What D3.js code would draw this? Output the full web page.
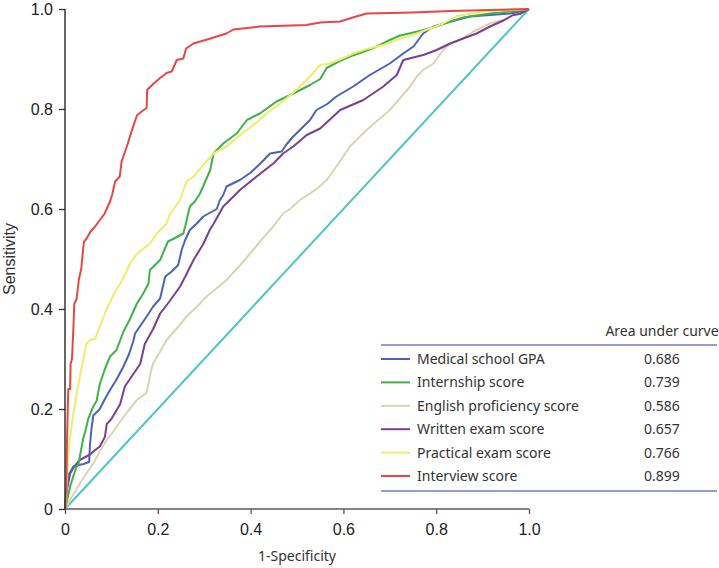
<!DOCTYPE html>
<html>
<head>
<meta charset="utf-8">
<script src="https://cdn.jsdelivr.net/npm/d3@7"></script>
<style>
html,body{margin:0;padding:0;background:#fff;}
svg{display:block;}
</style>
</head>
<body>
<svg id="chart" width="719" height="568"></svg>
<script>
// ---- data ----
const seriesNames = ["Medical school GPA","Internship score","English proficiency score","Written exam score","Practical exam score","Interview score"];
const aucValues = ["0.686","0.739","0.586","0.657","0.766","0.899"];
const xTicks = [0,0.2,0.4,0.6,0.8,1.0];
const yTicks = [0,0.2,0.4,0.6,0.8,1.0];

const gpaROC = [[0,0],[0.004,0.04],[0.008,0.07],[0.011,0.073],[0.018,0.085],[0.025,0.087],[0.04,0.09],[0.052,0.094],[0.054,0.13],[0.057,0.16],[0.061,0.187],[0.075,0.2],[0.086,0.22],[0.097,0.238],[0.111,0.259],[0.126,0.285],[0.138,0.31],[0.147,0.335],[0.151,0.351],[0.165,0.37],[0.176,0.385],[0.19,0.405],[0.205,0.421],[0.216,0.465],[0.23,0.475],[0.244,0.488],[0.252,0.52],[0.259,0.538],[0.269,0.558],[0.285,0.572],[0.298,0.585],[0.327,0.6],[0.334,0.618],[0.341,0.628],[0.348,0.645],[0.377,0.658],[0.399,0.672],[0.42,0.69],[0.442,0.711],[0.467,0.715],[0.478,0.73],[0.492,0.745],[0.517,0.768],[0.528,0.778],[0.542,0.798],[0.565,0.81],[0.585,0.825],[0.621,0.845],[0.657,0.868],[0.7,0.891],[0.729,0.911],[0.751,0.925],[0.772,0.951],[0.794,0.965],[0.844,0.978],[0.873,0.985],[0.916,0.988],[0.959,0.991],[0.98,0.995],[1,1]];
const internshipROC = [[0,0],[0.005,0.02],[0.011,0.045],[0.018,0.066],[0.025,0.085],[0.029,0.09],[0.032,0.105],[0.039,0.14],[0.045,0.16],[0.05,0.18],[0.061,0.205],[0.068,0.216],[0.075,0.25],[0.086,0.28],[0.097,0.305],[0.111,0.318],[0.126,0.355],[0.14,0.38],[0.155,0.411],[0.168,0.43],[0.18,0.451],[0.183,0.478],[0.205,0.498],[0.215,0.52],[0.222,0.535],[0.235,0.541],[0.255,0.551],[0.259,0.565],[0.269,0.605],[0.28,0.615],[0.291,0.631],[0.313,0.678],[0.32,0.711],[0.341,0.731],[0.37,0.751],[0.392,0.778],[0.42,0.791],[0.456,0.815],[0.492,0.831],[0.528,0.848],[0.55,0.86],[0.564,0.882],[0.59,0.895],[0.614,0.905],[0.645,0.915],[0.672,0.925],[0.7,0.938],[0.722,0.947],[0.76,0.955],[0.794,0.963],[0.83,0.975],[0.858,0.983],[0.916,0.991],[0.96,0.995],[1,1]];
const englishROC = [[0,0],[0.015,0.025],[0.032,0.051],[0.045,0.07],[0.061,0.091],[0.075,0.115],[0.09,0.138],[0.105,0.156],[0.119,0.175],[0.135,0.195],[0.155,0.218],[0.175,0.232],[0.18,0.25],[0.185,0.275],[0.19,0.291],[0.205,0.315],[0.219,0.338],[0.24,0.36],[0.262,0.385],[0.285,0.405],[0.305,0.425],[0.325,0.44],[0.348,0.458],[0.375,0.485],[0.399,0.511],[0.425,0.54],[0.449,0.565],[0.47,0.591],[0.485,0.6],[0.506,0.618],[0.528,0.631],[0.545,0.642],[0.564,0.658],[0.585,0.685],[0.614,0.725],[0.65,0.758],[0.7,0.798],[0.744,0.845],[0.758,0.865],[0.772,0.878],[0.794,0.891],[0.815,0.918],[0.83,0.931],[0.851,0.938],[0.88,0.955],[0.916,0.971],[0.944,0.978],[0.97,0.99],[1,1]];
const writtenROC = [[0,0],[0.004,0.038],[0.011,0.071],[0.02,0.085],[0.032,0.098],[0.054,0.109],[0.061,0.115],[0.075,0.125],[0.086,0.144],[0.09,0.17],[0.1,0.18],[0.119,0.21],[0.129,0.245],[0.14,0.26],[0.162,0.29],[0.172,0.33],[0.19,0.36],[0.205,0.391],[0.225,0.415],[0.248,0.445],[0.262,0.47],[0.277,0.498],[0.298,0.53],[0.313,0.56],[0.32,0.57],[0.341,0.605],[0.363,0.625],[0.377,0.638],[0.413,0.665],[0.449,0.691],[0.47,0.711],[0.492,0.725],[0.521,0.748],[0.55,0.761],[0.593,0.798],[0.643,0.818],[0.686,0.845],[0.715,0.868],[0.729,0.898],[0.772,0.908],[0.801,0.918],[0.83,0.931],[0.858,0.941],[0.887,0.951],[0.916,0.965],[0.945,0.977],[0.966,0.988],[0.98,0.99],[1,1]];
const practicalROC = [[0,0],[0.002,0.02],[0.004,0.052],[0.007,0.111],[0.012,0.15],[0.018,0.191],[0.025,0.23],[0.032,0.265],[0.039,0.298],[0.046,0.33],[0.054,0.338],[0.065,0.34],[0.075,0.365],[0.09,0.4],[0.108,0.435],[0.119,0.451],[0.13,0.47],[0.14,0.491],[0.155,0.51],[0.165,0.518],[0.183,0.531],[0.198,0.551],[0.219,0.571],[0.226,0.59],[0.248,0.618],[0.262,0.655],[0.277,0.665],[0.3,0.69],[0.32,0.711],[0.348,0.725],[0.37,0.742],[0.392,0.758],[0.415,0.775],[0.435,0.791],[0.465,0.812],[0.492,0.833],[0.51,0.848],[0.528,0.865],[0.55,0.888],[0.571,0.891],[0.6,0.902],[0.621,0.911],[0.65,0.92],[0.686,0.928],[0.72,0.94],[0.758,0.951],[0.79,0.962],[0.815,0.971],[0.844,0.986],[0.902,0.995],[1,1]];
const interviewROC = [[0,0],[0.003,0.05],[0.004,0.12],[0.006,0.2],[0.007,0.24],[0.011,0.24],[0.012,0.29],[0.015,0.3],[0.018,0.36],[0.02,0.41],[0.025,0.42],[0.03,0.46],[0.035,0.48],[0.039,0.52],[0.041,0.535],[0.046,0.54],[0.055,0.555],[0.065,0.565],[0.075,0.578],[0.085,0.59],[0.097,0.615],[0.102,0.63],[0.108,0.655],[0.118,0.665],[0.122,0.695],[0.135,0.73],[0.145,0.76],[0.155,0.787],[0.165,0.795],[0.176,0.802],[0.177,0.838],[0.19,0.85],[0.205,0.862],[0.219,0.872],[0.23,0.875],[0.241,0.898],[0.255,0.901],[0.261,0.921],[0.277,0.931],[0.31,0.94],[0.348,0.951],[0.363,0.959],[0.42,0.965],[0.52,0.968],[0.55,0.973],[0.593,0.975],[0.62,0.983],[0.65,0.991],[0.75,0.993],[0.83,0.996],[0.916,0.998],[1,1]];
const referenceLine = [[0,0],[1,1]];

// ---- styling ----
const seriesColors = ["#4a63b5","#3fb14b","#d9d4b2","#7d3e8f","#f1eb6c","#e84545"];
const seriesData = [gpaROC, internshipROC, englishROC, writtenROC, practicalROC, interviewROC];
const drawOrder = [2,3,0,1,4,5];

const svg = d3.select("#chart");
const margin = {left:65, top:9, right:190, bottom:59};
const x = d3.scaleLinear().domain([0,1]).range([65,529]);
const y = d3.scaleLinear().domain([0,1]).range([509,9]);
const fmt = d => d === 0 ? "0" : d3.format(".1f")(d);

const line = d3.line().x(d => x(d[0])).y(d => y(d[1]));

// reference diagonal
svg.append("path").datum(referenceLine)
  .attr("d", line).attr("fill","none")
  .attr("stroke","#4fc4c6").attr("stroke-width",2);

// ROC curves
drawOrder.forEach(i => {
  svg.append("path").datum(seriesData[i])
    .attr("d", line).attr("fill","none")
    .attr("stroke", seriesColors[i]).attr("stroke-width",2)
    .attr("stroke-linejoin","round");
});

// x axis
const xAxis = svg.append("g").attr("transform","translate(0,509)")
  .call(d3.axisBottom(x).tickValues(xTicks).tickFormat(fmt).tickSize(5).tickPadding(10));
xAxis.select(".domain").attr("stroke","#858585").attr("stroke-width",2.2).attr("d","M65,0H529");
xAxis.selectAll(".tick line").attr("stroke","#555").attr("stroke-width",1.3);
xAxis.selectAll(".tick text").attr("font-family","'Liberation Sans', Arial, sans-serif").attr("font-size",16).attr("fill","#222");

// y axis
const yAxis = svg.append("g").attr("transform","translate(65,0)")
  .call(d3.axisLeft(y).tickValues(yTicks).tickFormat(fmt).tickSize(6).tickPadding(6));
yAxis.select(".domain").attr("stroke","#333").attr("stroke-width",1.5).attr("d","M0,9V509");
yAxis.selectAll(".tick line").attr("stroke","#333").attr("stroke-width",1.3);
yAxis.selectAll(".tick text").attr("font-family","'Liberation Sans', Arial, sans-serif").attr("font-size",16).attr("fill","#222");

// axis titles
svg.append("text").attr("x",297).attr("y",561).attr("text-anchor","middle")
  .attr("font-family","'Noto Sans', 'Open Sans', sans-serif").attr("font-size",14).attr("fill","#333")
  .text("1-Specificity");
svg.append("text").attr("transform","translate(15,259) rotate(-90)").attr("text-anchor","middle")
  .attr("font-family","'Liberation Sans', Arial, sans-serif").attr("font-size",16).attr("fill","#333")
  .text("Sensitivity");

// legend table
const lg = svg.append("g");
const rowY = d3.scaleLinear().domain([0,5]).range([359,476]);
lg.append("text").attr("x",662).attr("y",336).attr("text-anchor","middle")
  .attr("font-family","'Noto Sans', 'Open Sans', sans-serif").attr("font-size",14).attr("fill","#333")
  .text("Area under curve");
lg.append("line").attr("x1",381).attr("x2",717).attr("y1",345).attr("y2",345)
  .attr("stroke","#6f7cc0").attr("stroke-width",1.6);
lg.append("line").attr("x1",381).attr("x2",717).attr("y1",491).attr("y2",491)
  .attr("stroke","#6f7cc0").attr("stroke-width",1.6);
seriesNames.forEach((name,i) => {
  const yy = rowY(i);
  lg.append("line").attr("x1",381).attr("x2",410).attr("y1",yy).attr("y2",yy)
    .attr("stroke", seriesColors[i]).attr("stroke-width",2);
  lg.append("text").attr("x",417).attr("y",yy).attr("dy","0.35em")
    .attr("font-family","'Noto Sans', 'Open Sans', sans-serif").attr("font-size",14).attr("fill","#333")
    .text(name);
  lg.append("text").attr("x",662).attr("y",yy).attr("dy","0.35em").attr("text-anchor","middle")
    .attr("font-family","'Noto Sans', 'Open Sans', sans-serif").attr("font-size",14).attr("fill","#333")
    .text(aucValues[i]);
});
</script>
</body>
</html>
